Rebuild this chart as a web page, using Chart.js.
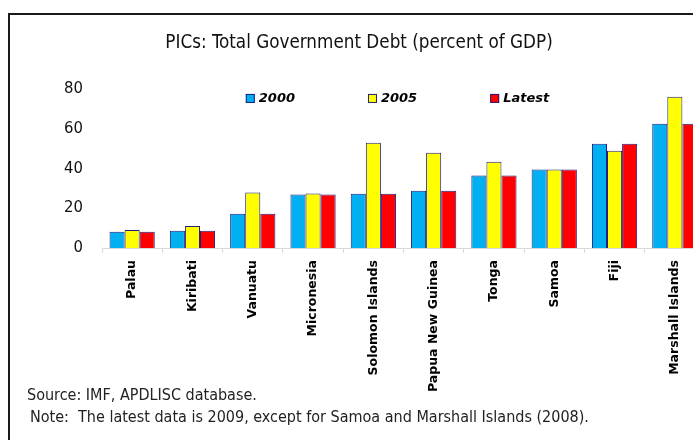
<!DOCTYPE html>
<html lang="en">
<head>
    <meta charset="UTF-8">
    <title>PICs: Total Government Debt</title>
    <script src="https://cdn.jsdelivr.net/npm/chart.js"></script>
    <style>
        html, body { margin: 0; padding: 0; background: #fff; overflow: hidden; width: 693px; height: 440px; }
        .frame {
            position: absolute; left: 8px; top: 13px; width: 760px; height: 500px;
            border-left: 2px solid #1a1a1a; border-top: 2px solid #1a1a1a;
        }
        .wrap { position: absolute; left: 10px; top: 15px; width: 700px; height: 384px; }
        .note {
            position: absolute; font-family: "DejaVu Sans Condensed", "DejaVu Sans", sans-serif;
            font-size: 16px; line-height: 19px; color: #222; white-space: pre;
        }
    </style>
</head>
<body>
    <div class="frame"></div>
    <div class="wrap"><canvas id="debtChart"></canvas></div>
    <div class="note" style="left:27px; top:385px;">Source: IMF, APDLISC database.</div>
    <div class="note" style="left:30px; top:407px;">Note:  The latest data is 2009, except for Samoa and Marshall Islands (2008).</div>

    <script>
        // values (percent of GDP)
        const countries = ['Palau', 'Kiribati', 'Vanuatu', 'Micronesia', 'Solomon Islands',
            'Papua New Guinea', 'Tonga', 'Samoa', 'Fiji', 'Marshall Islands'];
        const debt2000 = [8.2, 8.7, 17.2, 26.8, 27.2, 28.7, 36.3, 39.3, 52.3, 62.3];
        const debt2005 = [9.0, 11.0, 27.8, 27.3, 52.8, 47.8, 43.3, 39.3, 48.7, 75.8];
        const debtLatest = [8.2, 8.7, 17.2, 26.8, 27.2, 28.7, 36.3, 39.3, 52.3, 62.3];
        const yTicks = [0, 20, 40, 60, 80];

        const narrow = '"Liberation Sans Narrow", "DejaVu Sans Condensed", sans-serif';
        const edge = '#1f1f80';

        // the legend sits inside the plot, under the title, so draw it there by hand
        const insideLegend = {
            id: 'insideLegend',
            afterDatasetsDraw(chart) {
                const { ctx, chartArea } = chart;
                const box = 9, gap = 73;
                ctx.save();
                ctx.font = 'italic bold 13px "DejaVu Sans", sans-serif';
                const items = chart.data.datasets.map(ds => ({ ds, w: box + 4 + ctx.measureText(ds.label).width }));
                const total = items.reduce((s, it) => s + it.w, 0) + gap * (items.length - 1);
                let x = (chartArea.left + chartArea.right) / 2 - total / 2 - 6;
                const y = chartArea.top + 10;
                items.forEach(it => {
                    ctx.fillStyle = it.ds.backgroundColor;
                    ctx.fillRect(x, y - box / 2, box, box);
                    ctx.strokeStyle = it.ds.borderColor;
                    ctx.lineWidth = 1;
                    ctx.strokeRect(x + 0.5, y - box / 2 + 0.5, box - 1, box - 1);
                    ctx.fillStyle = '#000';
                    ctx.textBaseline = 'middle';
                    ctx.fillText(it.ds.label, x + box + 4, y);
                    x += it.w + gap;
                });
                ctx.restore();
            }
        };

        new Chart(document.getElementById('debtChart'), {
            type: 'bar',
            data: {
                labels: countries,
                datasets: [
                    { label: '2000', data: debt2000, backgroundColor: '#00b0f0', borderColor: edge, borderWidth: 1 },
                    { label: '2005', data: debt2005, backgroundColor: '#ffff00', borderColor: edge, borderWidth: 1 },
                    { label: 'Latest', data: debtLatest, backgroundColor: '#ff0000', borderColor: edge, borderWidth: 1 }
                ]
            },
            options: {
                responsive: true,
                maintainAspectRatio: false,
                animation: false,
                datasets: { bar: { categoryPercentage: 0.75, barPercentage: 1 } },
                layout: { padding: { left: 3, right: 5, top: 0, bottom: 0 } },
                plugins: {
                    title: {
                        display: true,
                        text: 'PICs: Total Government Debt (percent of GDP)',
                        color: '#111',
                        font: { family: narrow, size: 18.7, weight: 'normal' },
                        padding: { top: 17, bottom: 34 }
                    },
                    legend: { display: false },
                    tooltip: { enabled: false }
                },
                scales: {
                    x: {
                        grid: { display: true, offset: true, drawOnChartArea: false, drawTicks: true, tickLength: 5, color: '#d9d9d9' },
                        border: { display: true, color: '#d9d9d9' },
                        ticks: {
                            minRotation: 90, maxRotation: 90, autoSkip: false, padding: 7,
                            color: '#000',
                            font: { family: '"DejaVu Sans", sans-serif', size: 12.5, weight: 'bold' }
                        }
                    },
                    y: {
                        min: 0, max: 80,
                        afterBuildTicks: (axis) => { axis.ticks = yTicks.map(v => ({ value: v })); },
                        afterFit: (axis) => { axis.width = 89; },
                        grid: { display: false },
                        border: { display: false },
                        ticks: { padding: 11, color: '#111', font: { family: narrow, size: 16.5 } }
                    }
                }
            },
            plugins: [insideLegend]
        });
    </script>
</body>
</html>
